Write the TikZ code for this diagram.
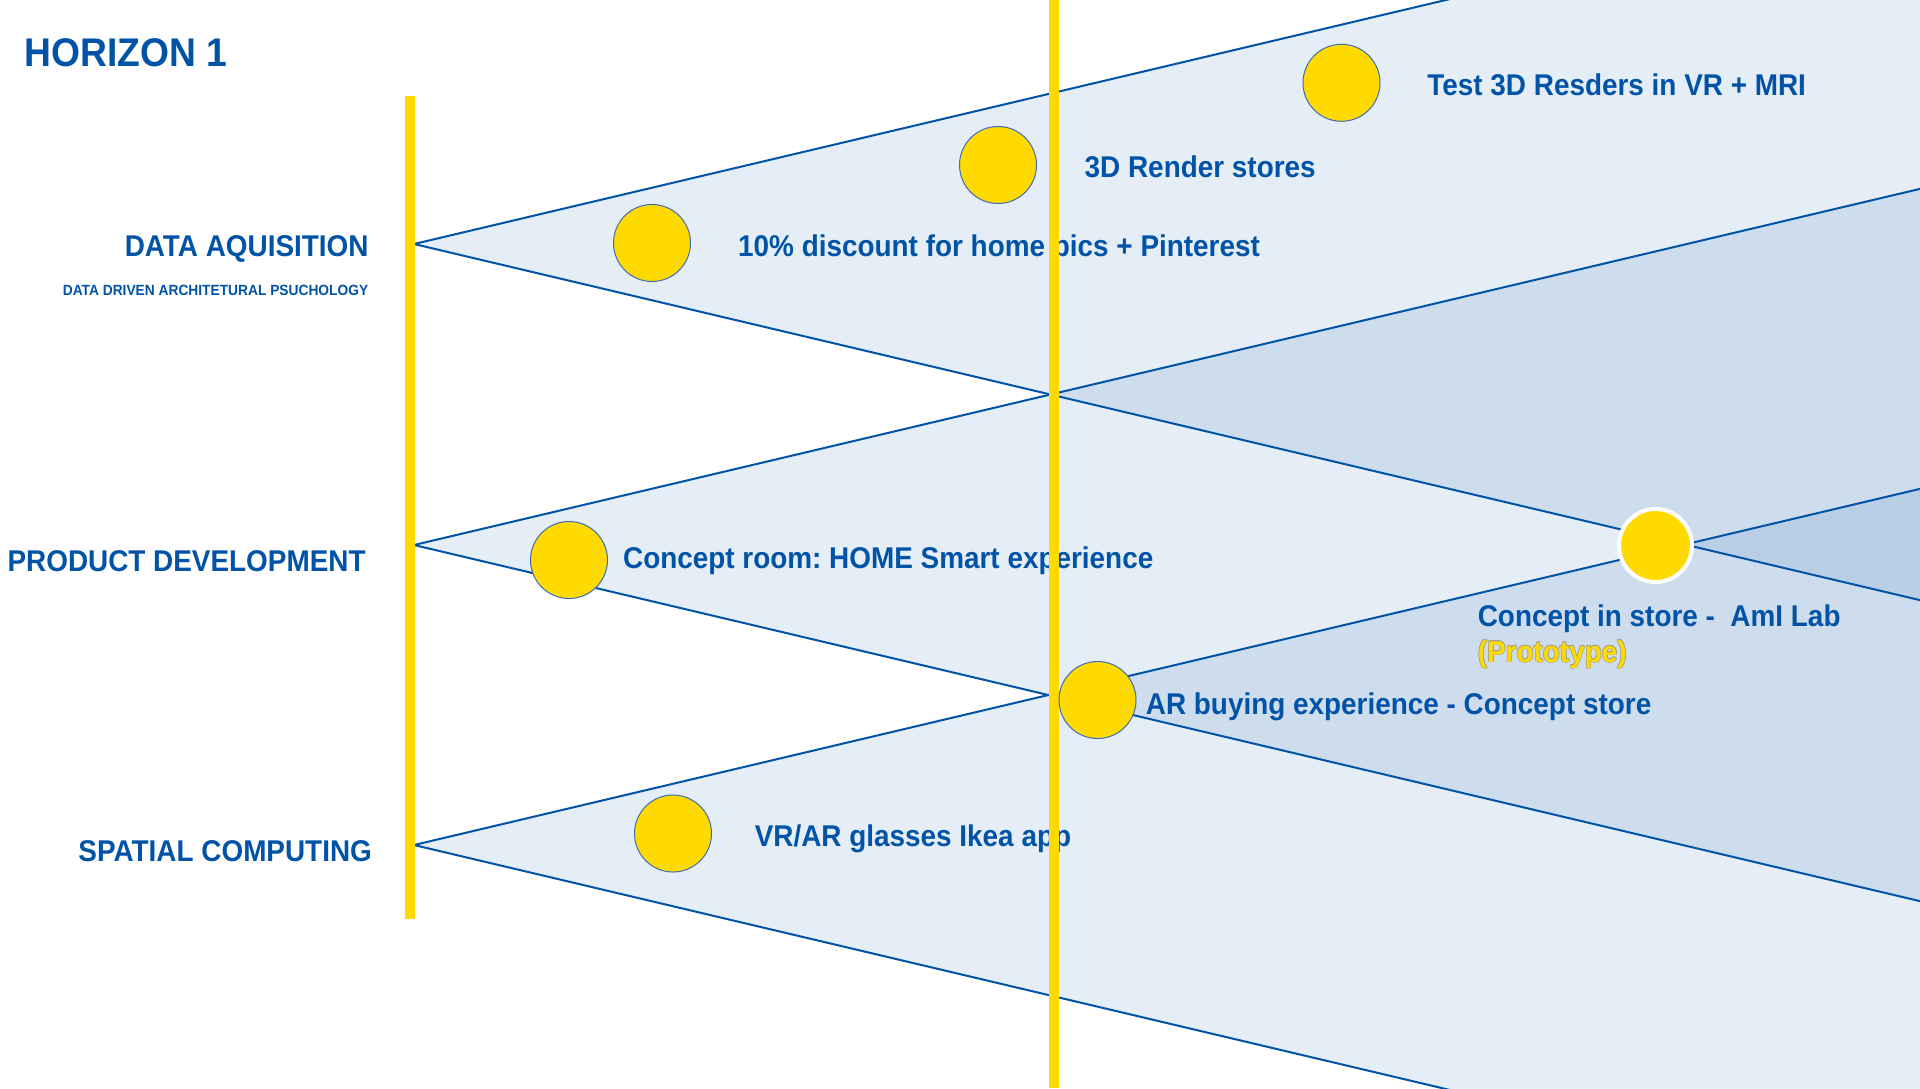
\documentclass[tikz,border=0pt]{standalone}
\usepackage{fontspec}
\setmainfont{Liberation Sans}[FakeStretch=0.93]
\definecolor{ikblue}{HTML}{0053A6}
\definecolor{fanblue}{HTML}{0555A8}
\definecolor{ikyellow}{HTML}{FFDA00}
\definecolor{circline}{HTML}{3E6DB5}
\definecolor{protoline}{HTML}{A3A38A}
\frenchspacing
\begin{document}
\begin{tikzpicture}[x=0.5pt,y=-0.5pt,
  lbl/.style={inner sep=0pt, text=ikblue, font=\bfseries\fontsize{15}{18}\selectfont},
  fanfill/.style={fill=fanblue, fill opacity=0.1, draw=none},
  fanline/.style={draw=ikblue, line width=1pt},
  barfill/.style={fill=ikyellow, draw=none},
  dot/.style={circle, fill=ikyellow, draw=circline, line width=0.5pt, minimum size=38.5pt, inner sep=0pt},
  whitedot/.style={circle, fill=ikyellow, draw=white, line width=2pt, minimum size=36.5pt, inner sep=0pt}]
\useasboundingbox (0,0) rectangle (1920,1088);
\fill[white] (0,0) rectangle (1920,1088);
% fan apexes and far ends
\coordinate (aD) at (414,244);
\coordinate (aP) at (414,545);
\coordinate (aS) at (414,845);
\coordinate (aDu) at (2100,-154.7);
\coordinate (aDl) at (2100,642.7);
\coordinate (aPu) at (2100,146.3);
\coordinate (aPl) at (2100,943.7);
\coordinate (aSu) at (2100,446.3);
\coordinate (aSl) at (2100,1243.7);
\begin{scope}
\clip (0,0) rectangle (1920,1088);
\fill[fanfill] (aD) -- (aDu) -- (aDl) -- cycle;
\fill[fanfill] (aP) -- (aPu) -- (aPl) -- cycle;
\fill[fanfill] (aS) -- (aSu) -- (aSl) -- cycle;
\draw[fanline] (aDu) -- (aD) -- (aDl);
\draw[fanline] (aPu) -- (aP) -- (aPl);
\draw[fanline] (aSu) -- (aS) -- (aSl);
\end{scope}
% left labels
\node[lbl, anchor=base west, font=\bfseries\fontsize{20}{24}\selectfont] (h1) at (24,66.7) {HORIZON 1};
\node[lbl, anchor=base east] (lD) at (369,256) {DATA AQUISITION};
\node[lbl, anchor=base east, font=\bfseries\fontsize{7.4}{9}\selectfont] (lDs) at (368.6,295.6) {DATA DRIVEN ARCHITETURAL PSUCHOLOGY};
\node[lbl, anchor=base] (lP) at (186.6,571.8) {PRODUCT DEVELOPMENT};
\node[lbl, anchor=base east] (lS) at (372.3,861.7) {SPATIAL COMPUTING};
% item labels
\node[lbl, anchor=base west] (t1) at (737.8,256) {10\% discount for home pics + Pinterest};
\node[lbl, anchor=base west] (t2) at (1427,95.4) {Test 3D Resders in VR + MRI};
\node[lbl, anchor=base west] (t3) at (1084.3,177.6) {3D Render stores};
\node[lbl, anchor=base west] (t5) at (622.7,568.3) {Concept room: HOME Smart experience};
\node[lbl, anchor=base west] (t6) at (754.4,846.5) {VR/AR glasses Ikea app};
\node[lbl, anchor=base west] (t7) at (1145.5,714) {AR buying experience - Concept store};
\node[lbl, anchor=base west] (t4) at (1477.4,626) {Concept in store -\ \ AmI Lab};
\foreach \a in {0,45,...,315}
  \node[lbl, anchor=base west, text=protoline] (po\a) at ([shift={(\a:0.7)}]1477.4,662) {(Prototype)};
\node[lbl, anchor=base west, text=ikyellow] (t4p) at (1477.4,662) {(Prototype)};
% yellow bars
\fill[barfill] (404.6,95.5) rectangle (414.6,919);
\fill[barfill] (1049.3,0) rectangle (1059.2,1088);
% milestones
\node[dot] (c1) at (652,243) {};
\node[dot] (c2) at (1341.5,82.8) {};
\node[dot] (c3) at (998,165) {};
\node[whitedot] (c4) at (1655.5,545.5) {};
\node[dot] (c5) at (569,560) {};
\node[dot] (c6) at (673,833.5) {};
\node[dot] (c7) at (1097.5,700) {};
\end{tikzpicture}
\end{document}
